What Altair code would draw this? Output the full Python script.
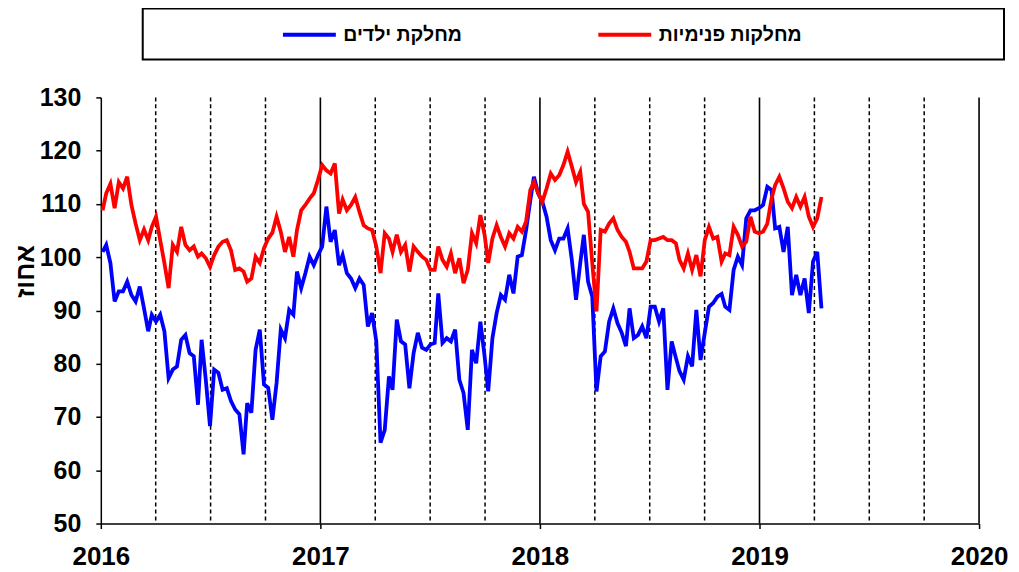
import altair as alt
import pandas as pd

# weekly occupancy (%)
red_values = [
    108.8, 112, 113.8, 109.2, 114.1, 112.9, 115.1, 109.8, 106.3, 103.2, 105.2, 103.2, 105.7, 107.6, 103.2,
    98.9, 94.2, 102.3, 101.0, 105.7, 102.3, 101.3, 102, 100.1, 100.7, 99.8, 98.2, 100.4, 102,
    102.9, 103.2, 101.3, 97.6, 97.9, 97.3, 95.4, 96.0, 100.1, 98.9, 101.7, 103.5, 104.6, 107.6,
    104.8, 101.0, 103.8, 100.1, 105.1, 108.8, 109.8, 111.0, 112, 114.5, 117.3, 116.3, 115.7, 117.6,
    108.2, 110.8, 108.8, 109.8, 111.3, 108.5, 106.0, 105.4, 105.1, 102, 97, 104.5, 103.5, 101, 104.2,
    101, 102.3, 97.3, 102, 101, 100.1, 99.5, 97.6, 97.6, 102, 99.5, 98.2, 100.7, 97,
    99.8, 95.1, 97.6, 104.5, 102.6, 107.9, 104.2, 98.9, 103.5, 106, 103.8, 102, 104.5, 103.5, 105.7,
    104.8, 106.7, 112.6, 114.1, 112, 110.4, 112.9, 115.7, 114.5, 115.4, 117.3, 119.8, 117, 114.1,
    116, 110, 108.5, 98.9, 89.8, 105.1, 104.8, 106.3, 107.3, 105.1, 103.8, 102.9, 101, 97.9, 97.9,
    97.9, 99.2, 103.2, 103.2, 103.5, 103.8, 103.2, 103.2, 102.6, 99.5, 97.9, 100.7, 97.6, 100.4,
    96.4, 103.2, 105.7, 103.5, 103.8, 99.2, 100.7, 100.4, 105.7, 104.2, 102, 102.9, 107.6, 104.8, 104.5,
    104.8, 106.3, 111, 113.5, 115.1, 112.9, 110.4, 109.2, 111.3, 109.5, 111.3, 107.6, 105.7, 107.3, 111.3,
]
blue_values = [
    101.0, 102.3, 98.9, 91.7, 93.6, 93.6, 95.4, 92.9, 91.7, 94.5, 90.4, 86.1, 89.2, 87.9, 89.2,
    86.1, 77.3, 78.9, 79.5, 84.5, 85.4, 82, 81.4, 72.3, 84.5, 77.0, 68.3, 78.9, 78.3,
    75.1, 75.4, 73, 71.4, 70.5, 63, 72.6, 70.8, 82.6, 86.4, 76.1, 75.5, 69.5, 76.4,
    86.4, 84.8, 90.1, 89.2, 97.3, 94.2, 97, 100.1, 98.5, 100.4, 102, 109.5, 102.9, 105.1,
    98.5, 100.4, 97, 96.0, 94.2, 96.0, 94.8, 87, 89.5, 84.2, 65.2, 67.6, 77.6, 75.1, 88.3,
    84.2, 83.6, 75.4, 82, 85.8, 83, 82.6, 83.6, 83.9, 93.2, 83.9, 84.8, 84.2, 86.4,
    77, 74.5, 67.6, 82.6, 80.1, 87.9, 81.4, 74.8, 84.8, 89.5, 92.9, 92, 96.7, 93.2, 100.1,
    100.4, 105.1, 110.7, 115.1, 112, 110.4, 107.6, 103.2, 101.3, 103.5, 103.5, 105.4, 99.5, 92,
    98.9, 104.2, 95.4, 92.6, 74.8, 81.4, 82.3, 87.9, 90.4, 87.6, 85.8, 83.3, 90.4, 84.8, 85.4,
    87, 84.8, 90.7, 90.7, 87.9, 90.4, 75.1, 84.2, 81.1, 78.6, 77, 81.4, 79.5, 90.1,
    80.7, 85.8, 90.7, 91.4, 92.6, 93.1, 90.7, 90.1, 97.6, 100.1, 98.5, 107.3, 108.8, 108.8, 109.2,
    109.8, 113.2, 112.6, 105.4, 105.7, 101, 105.7, 92.9, 96.7, 92.9, 96.0, 89.5, 99.2, 101, 90.4,
]
series_names = ["מחלקת ילדים", "מחלקות פנימיות"]
series_colors = ["#0000FF", "#FF0000"]
x_ticks = [2016, 2017, 2018, 2019, 2020]
y_ticks = [50, 60, 70, 80, 90, 100, 110, 120, 130]
year_lines = [2017, 2018, 2019, 2020]
quarter_lines = [2016.25, 2016.5, 2016.75, 2017.25, 2017.5, 2017.75,
                 2018.25, 2018.5, 2018.75, 2019.25, 2019.5, 2019.75]

dates = pd.date_range("2016-01-04", "2019-04-14", periods=len(red_values))
t = (dates.year + (dates.dayofyear - 1) / (365 + dates.is_leap_year.astype(int))).tolist()

df = pd.concat([
    pd.DataFrame({"t": t, "value": blue_values, "series": series_names[0]}),
    pd.DataFrame({"t": t, "value": red_values, "series": series_names[1]}),
])
year_df = pd.DataFrame({"t": year_lines})
quarter_df = pd.DataFrame({"t": quarter_lines})

FONT = "Arial"
x_enc = alt.X(
    "t:Q",
    scale=alt.Scale(domain=[2016, 2020], nice=False, zero=False),
    axis=alt.Axis(values=x_ticks, format="d", labelFont=FONT, labelFontSize=26,
                  labelFontWeight="bold", labelColor="black", labelPadding=15,
                  labelFlush=False, labelOverlap=False, tickSize=5, tickColor="black",
                  tickWidth=1.5, domainColor="black", domainWidth=1.5, grid=False),
    title=None,
)

quarters = alt.Chart(quarter_df).mark_rule(color="black", strokeWidth=1.5, strokeDash=[4, 3]).encode(x=x_enc)
years = alt.Chart(year_df).mark_rule(color="black", strokeWidth=1.6).encode(x=x_enc)

lines = alt.Chart(df).mark_line(strokeWidth=3.8).encode(
    x=x_enc,
    y=alt.Y(
        "value:Q",
        scale=alt.Scale(domain=[50, 130], nice=False, zero=False),
        axis=alt.Axis(values=y_ticks, labelFont=FONT, labelFontSize=25, labelFontWeight="bold",
                      labelColor="black", labelPadding=15, tickSize=5, tickColor="black",
                      tickWidth=1.5, domainColor="black", domainWidth=1.5, grid=False,
                      title="אחוז", titleFont=FONT, titleFontSize=26, titleFontWeight="bold",
                      titleColor="black", titleAngle=270, titleX=-75, titleY=174,
                      titleBaseline="middle", titleAlign="center"),
    ),
    color=alt.Color(
        "series:N",
        scale=alt.Scale(domain=series_names, range=series_colors),
        sort=series_names,
        legend=alt.Legend(
            title=" ", titleOrient="right", titleFontSize=1, titlePadding=188,
            orient="none", legendX=42, legendY=-89, direction="horizontal", columns=2,
            symbolType="M-3,0H3", symbolSize=312, symbolStrokeWidth=4,
            symbolOffset=141, labelOffset=23, columnPadding=11,
            labelFont=FONT, labelFontSize=19.5, labelFontWeight="bold", labelColor="black",
            labelLimit=400, padding=15, strokeColor="black", fillColor="white",
        ),
    ),
)

chart = alt.layer(quarters, years, lines).properties(
    width=880, height=427,
    autosize=alt.AutoSizeParams(type="none"),
    padding={"left": 93, "top": 89, "right": 32, "bottom": 50},
).configure_view(stroke=None).configure_legend(strokeWidth=2)

chart.save("out.html", embed_options={"renderer": "svg", "actions": False})
